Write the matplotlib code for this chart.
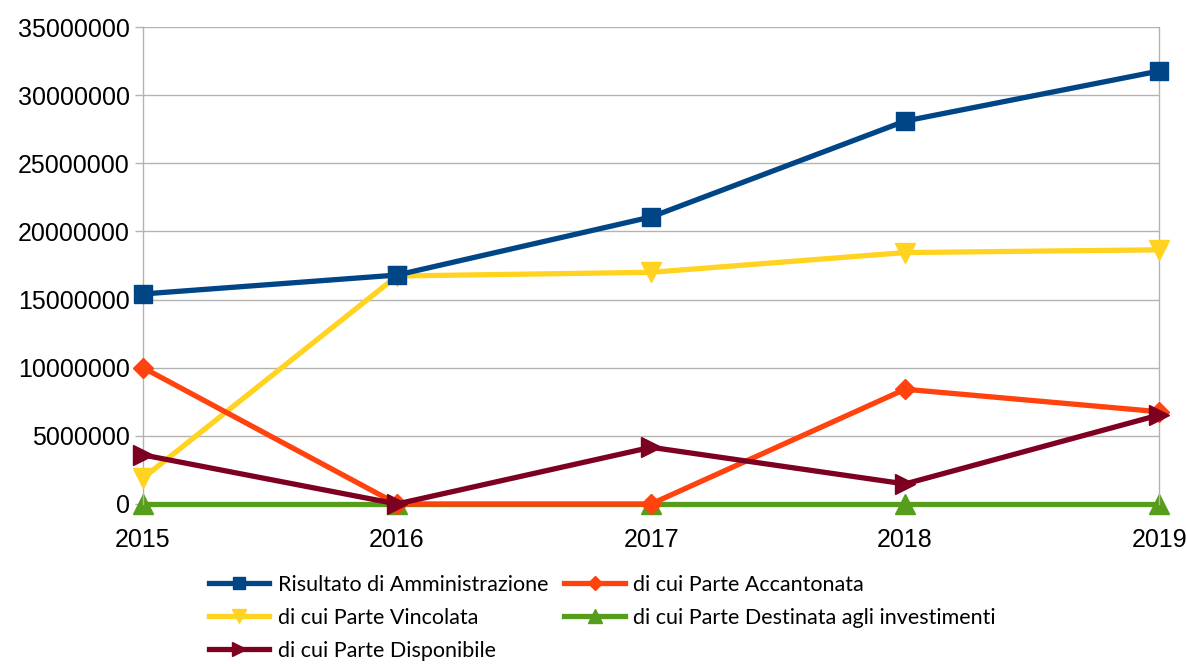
import matplotlib.pyplot as plt

years = [2015, 2016, 2017, 2018, 2019]
risultato = [15410000, 16800000, 21060000, 28100000, 31770000]
accantonata = [10000000, 0, 0, 8420000, 6770000]
vincolata = [1900000, 16730000, 17000000, 18450000, 18650000]
destinata = [0, 0, 0, 0, 0]
disponibile = [3600000, 0, 4160000, 1470000, 6530000]

labels = ['Risultato di Amministrazione', 'di cui Parte Accantonata',
          'di cui Parte Vincolata', 'di cui Parte Destinata agli investimenti',
          'di cui Parte Disponibile']

fig = plt.figure(figsize=(11.87, 6.64), dpi=100)
ax = fig.add_axes([0.1205, 0.241, 0.856, 0.7183])

lw = 3.8
ax.plot(years, risultato, marker='s', markersize=13, color='#004586', linewidth=lw, label=labels[0], zorder=5, clip_on=False)
ax.plot(years, accantonata, marker='D', markersize=10, color='#ff420e', linewidth=lw, label=labels[1], zorder=4, clip_on=False)
ax.plot(years, vincolata, marker='v', markersize=14, color='#ffd320', linewidth=lw, label=labels[2], zorder=3, clip_on=False)
ax.plot(years, destinata, marker='^', markersize=14, color='#579d1c', linewidth=lw, label=labels[3], zorder=2, clip_on=False)
ax.plot(years, disponibile, marker='>', markersize=14, color='#7e0021', linewidth=lw, label=labels[4], zorder=6, clip_on=False)

ax.set_xlim(2015, 2019)
ax.set_ylim(0, 35000000)
ax.set_xticks(years)
ax.set_yticks(range(0, 35000001, 5000000))
ax.set_yticklabels([str(v) for v in range(0, 35000001, 5000000)])
ax.grid(axis='y', color='#b3b3b3', linewidth=1)
ax.set_axisbelow(True)
for s in ['top', 'bottom']:
    ax.spines[s].set_visible(False)
for s in ['left', 'right']:
    ax.spines[s].set_color('#b3b3b3')
    ax.spines[s].set_linewidth(1)
ax.tick_params(axis='both', labelsize=18, color='#b3b3b3', length=6, width=1)
ax.tick_params(axis='x', pad=11)
for lab in ax.get_xticklabels() + ax.get_yticklabels():
    lab.set_fontfamily('Liberation Sans')

handles, labs = ax.get_legend_handles_labels()
order = [0, 2, 4, 1, 3]
fig.legend([handles[i] for i in order], [labs[i] for i in order],
           loc='upper left', bbox_to_anchor=(0.176, 0.134), ncol=2,
           frameon=False, prop={'family': 'Lato', 'size': 15.5},
           handlelength=2.8, handletextpad=0.4, columnspacing=0.75,
           labelspacing=0.6, borderaxespad=0, borderpad=0, markerscale=0.7)

fig.savefig('out.png', dpi=100)
